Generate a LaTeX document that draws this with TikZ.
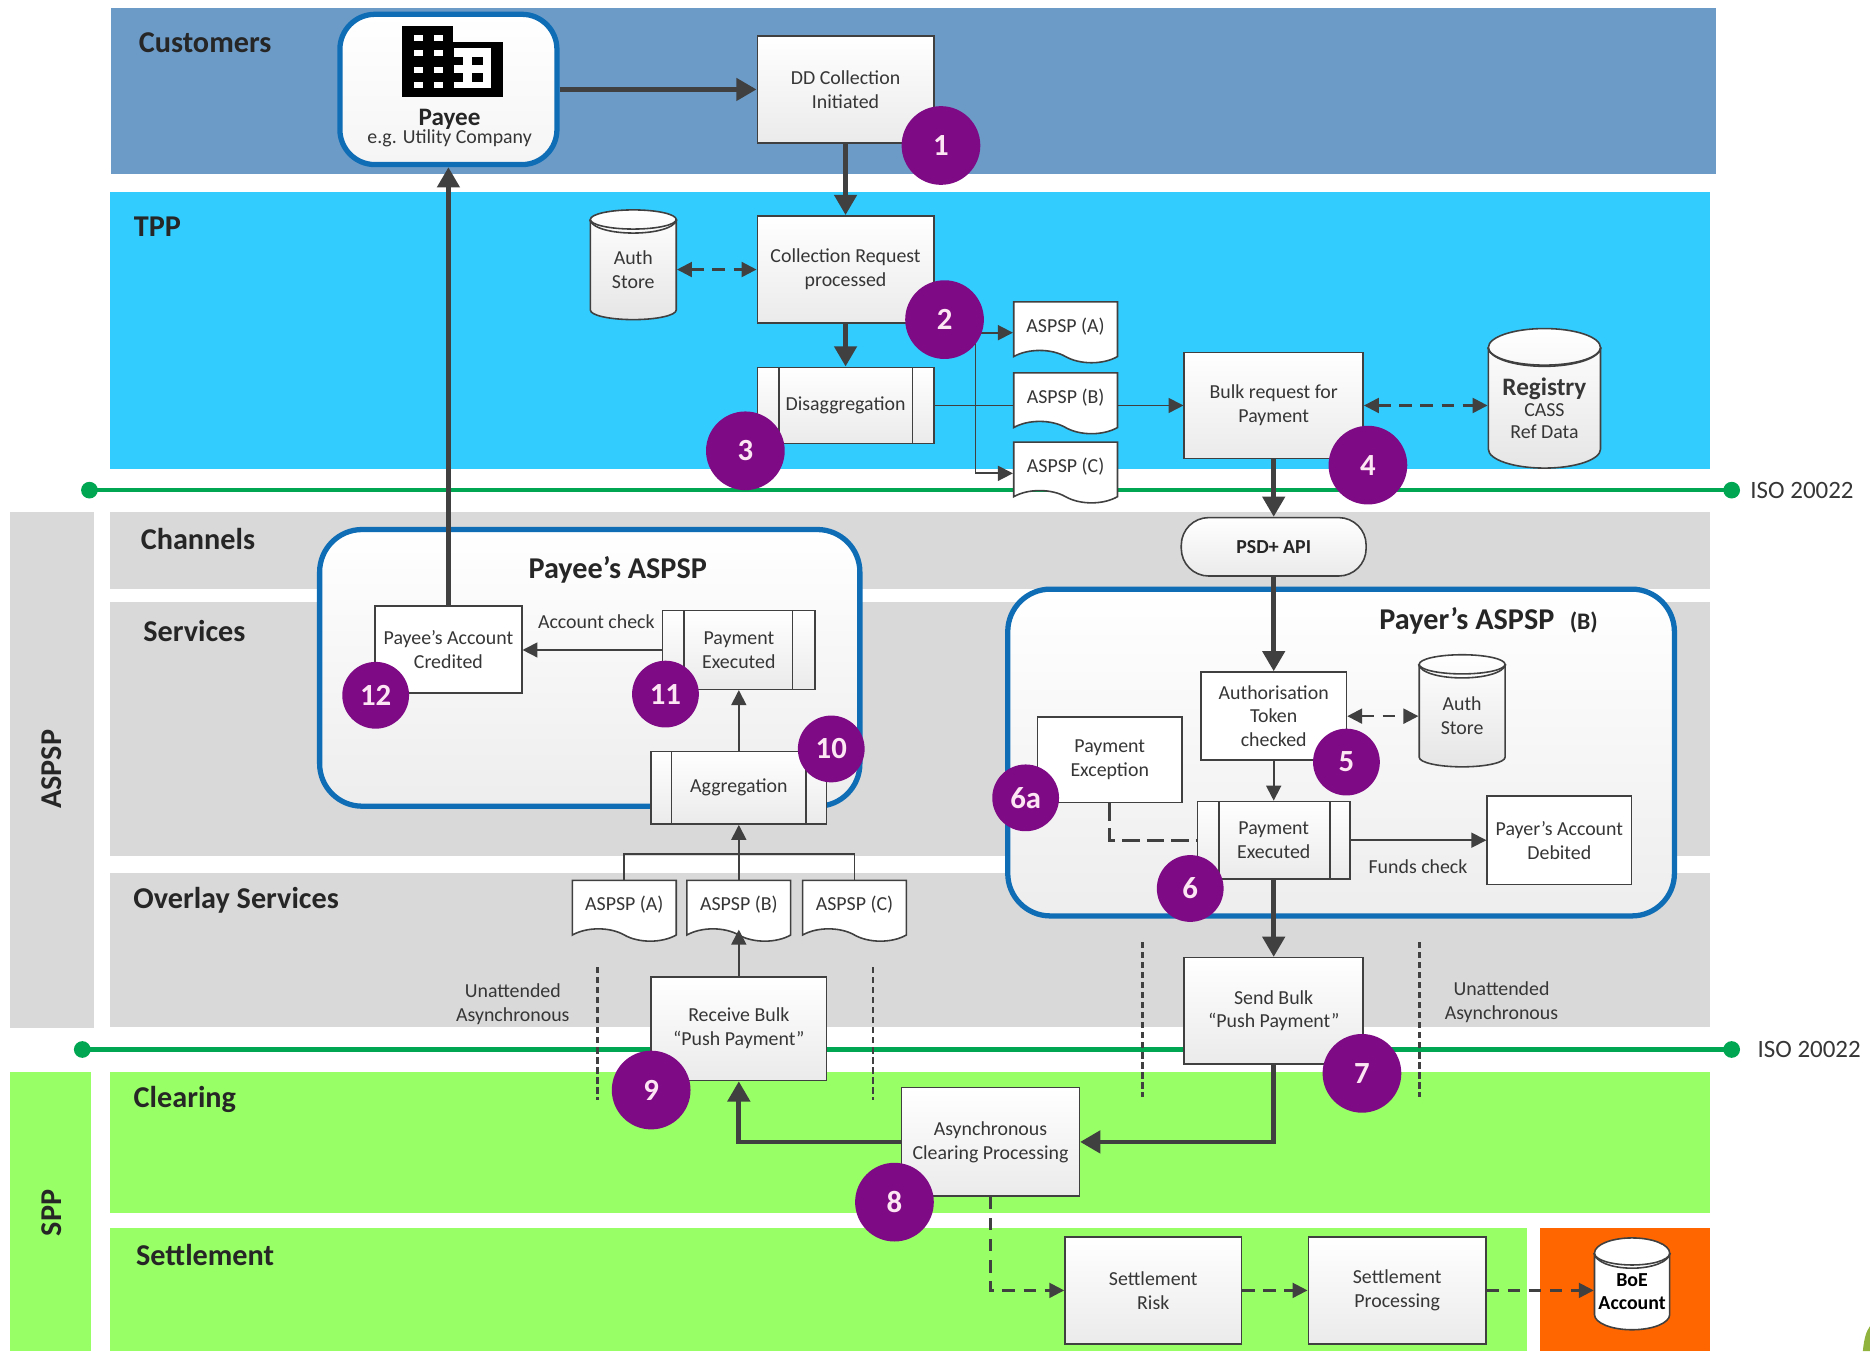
\documentclass[tikz,border=0pt]{standalone}
\usepackage{fontspec}
\setmainfont{Carlito}
\usetikzlibrary{arrows.meta,shapes.geometric,shapes.symbols}

\definecolor{custband}{HTML}{6C9BC8}
\definecolor{tppband}{HTML}{33CCFF}
\definecolor{greyband}{HTML}{D9D9D9}
\definecolor{greenband}{HTML}{99FF66}
\definecolor{boeband}{HTML}{FF6600}
\definecolor{isoline}{HTML}{00A651}
\definecolor{frameblue}{HTML}{0F6DB6}
\definecolor{badgepurple}{HTML}{7F0A85}
\definecolor{inkgrey}{HTML}{404040}
\definecolor{cornergreen}{HTML}{8FB33C}

\tikzset{
    wh/.style 2 args={minimum width=#1*0.02385cm, minimum height=#2*0.02385cm},
    boxtext/.style={font=\fontsize{11.3}{13.6}\selectfont, text=inkgrey!85!black, align=center, inner sep=0pt},
    headlabel/.style={font=\fontsize{17.2}{20}\selectfont\bfseries, text=black!85, inner sep=0pt},
    plainlabel/.style={boxtext},
    procbox/.style={rectangle, draw=inkgrey, line width=0.9pt, top color=white, bottom color=black!8, boxtext},
    whitebox/.style={rectangle, draw=inkgrey, line width=0.9pt, fill=white, boxtext},
    subproc/.style 2 args={procbox, path picture={
        \draw[inkgrey, line width=0.9pt] ([xshift=#1*0.02385cm]path picture bounding box.north west) -- ([xshift=#1*0.02385cm]path picture bounding box.south west);
        \draw[inkgrey, line width=0.9pt] ([xshift=-#2*0.02385cm]path picture bounding box.north east) -- ([xshift=-#2*0.02385cm]path picture bounding box.south east);}},
    store/.style={cylinder, shape border rotate=90, aspect=0.45, anchor=shape center, draw=inkgrey, line width=0.9pt, top color=white, bottom color=black!10, boxtext},
    slip/.style={tape, tape bend top=none, tape bend bottom=out and in, tape bend height=7pt, draw=inkgrey, line width=0.9pt, fill=white, boxtext, wh={87}{51}},
    frame/.style={rectangle, rounded corners=0.85cm, draw=frameblue, line width=3pt, top color=white, bottom color=black!7, inner sep=0pt},
    badge/.style={circle, fill=badgepurple, text=white!90!magenta, font=\fontsize{17.5}{20}\selectfont\bfseries, inner sep=0pt, minimum size=#1*0.02385cm},
    badge/.default=66,
    bigflow/.style={draw=inkgrey, line width=2.7pt, -{Triangle[length=11.5pt, width=12.5pt]}},
    flow/.style={draw=inkgrey, line width=1pt, -{Triangle[length=8.5pt, width=8.5pt]}},
    flowplain/.style={draw=inkgrey, line width=1pt},
    dashflow/.style={draw=inkgrey, line width=1.3pt, dash pattern=on 7pt off 5pt, {Triangle[length=8.5pt, width=8.5pt]}-{Triangle[length=8.5pt, width=8.5pt]}},
    dashone/.style={draw=inkgrey, line width=1.3pt, dash pattern=on 7pt off 5pt, -{Triangle[length=8.5pt, width=8.5pt]}},
    dashplain/.style={draw=inkgrey, line width=1.5pt, dash pattern=on 10pt off 4pt},
    asyncrule/.style={draw=inkgrey, line width=1.6pt, dash pattern=on 3.5pt off 2.2pt},
}

\begin{document}
\begin{tikzpicture}[x=0.02385cm, y=-0.02385cm]
    \useasboundingbox (0,0) rectangle (1568,1133);
    \clip (0,0) rectangle (1568,1133);

    % swim lanes
    \fill[custband] (93,7) rectangle (1439,146);
    \fill[tppband] (92,161) rectangle (1434,393);
    \fill[greyband] (92,429) rectangle (1434,494);
    \fill[greyband] (92,505) rectangle (1434,718);
    \fill[greyband] (92,732) rectangle (1434,861);
    \fill[greenband] (92,899) rectangle (1434,1017);
    \fill[greenband] (92,1030) rectangle (1280,1133);
    \fill[boeband] (1291,1030) rectangle (1434,1133);
    \fill[greyband] (8,429) rectangle (79,862);
    \fill[greenband] (8,899) rectangle (76,1133);
    \fill[cornergreen] (1562,1133) .. controls (1563,1122) and (1565,1116) .. (1568,1112) -- (1568,1133) -- cycle;

    \node[headlabel] (lblcust) at (172,36) {Customers};
    \node[headlabel] (lbltpp) at (132,190) {TPP};
    \node[headlabel] (lblchan) at (166,452) {Channels};
    \node[headlabel] (lblserv) at (163,529) {Services};
    \node[headlabel] (lblover) at (198,755) {Overlay Services};
    \node[headlabel] (lblclear) at (155,922) {Clearing};
    \node[headlabel] (lblsettle) at (172,1052) {Settlement};
    \node[headlabel, rotate=90] (lblaspsp) at (43,645) {ASPSP};
    \node[headlabel, rotate=90] (lblspp) at (43,1017) {SPP};

    % ISO 20022 lines
    \coordinate (isoaw) at (75,411);
    \coordinate (isoae) at (1452,411);
    \coordinate (isobw) at (69,880);
    \coordinate (isobe) at (1452,880);
    \draw[isoline, line width=2.6pt] (isoaw) -- (isoae);
    \draw[isoline, line width=2.6pt] (isobw) -- (isobe);
    \foreach \p in {isoaw,isoae,isobw,isobe}
        \fill[isoline] (\p) circle (7);
    \node[plainlabel, font=\fontsize{14.2}{16}\selectfont] (isoa) at (1511,411) {ISO 20022};
    \node[plainlabel, font=\fontsize{14.2}{16}\selectfont] (isob) at (1517,880) {ISO 20022};

    % blue frames
    \node[frame, wh={453}{232}] (payeeframe) at (494.5,560) {};
    \node[frame, wh={559}{274}] (payerframe) at (1124.5,631) {};
    \node[headlabel] (payeetitle) at (518,478) {Payee's ASPSP};
    \node[headlabel] (payertitle) at (1230,521) {Payer's ASPSP};
    \node[headlabel, font=\fontsize{13.5}{15}\selectfont\bfseries] (payerb) at (1328,522) {(B)};

    % payee with its building
    \node[frame, rounded corners=0.7cm, bottom color=black!4, wh={182}{126}] (payee) at (376,75) {};
    \fill[black] (337,22) rectangle (380,81);
    \fill[black] (380,35) rectangle (422,81);
    \fill[white] (381,40) rectangle (412,74);
    \foreach \y in {47.5,61.5} {
        \fill[black] (381,\y) rectangle (388,\y+7);
        \fill[black] (396,\y) rectangle (405,\y+7);
    }
    \foreach \x in {347.5,364}
        \foreach \y in {29,42,56,69}
            \fill[white] (\x,\y) rectangle (\x+7.5,\y+5);
    \node[font=\fontsize{14.3}{16}\selectfont\bfseries, text=black!85, inner sep=0pt] (payeename) at (377,100) {Payee};
    \node[boxtext] (payeenote) at (377,116) {e.g. Utility Company};

    % TPP and customer steps
    \node[procbox, wh={148}{90}] (ddinit) at (709,75) {DD Collection\\Initiated};
    \node[procbox, wh={148}{90}] (collreq) at (709,226) {Collection Request\\processed};
    \node[subproc={18}{18}, wh={148}{64}] (disagg) at (709,340) {Disaggregation};
    \node[store, minimum width=72*0.02385cm, minimum height=92*0.02385cm] (authtpp) at (531,222) {Auth\\Store};
    \node[slip] (tppa) at (893.5,273.5) {ASPSP (A)};
    \node[slip] (tppb) at (893.5,333) {ASPSP (B)};
    \node[slip] (tppc) at (893.5,391) {ASPSP (C)};
    \node[procbox, wh={150}{89}] (bulkreq) at (1068,340) {Bulk request for\\Payment};
    \node[store, minimum width=94*0.02385cm, minimum height=117*0.02385cm] (registry) at (1295,334) {{\bfseries\fontsize{14.3}{14}\selectfont Registry}\\[-2pt]CASS\\[-1pt]Ref Data};
    \node[procbox, rounded corners=0.55cm, wh={155}{49}, font=\fontsize{11.3}{13}\selectfont\bfseries, text=black!85] (psdapi) at (1068,458.5) {PSD+ API};

    % payer's ASPSP
    \node[whitebox, wh={122}{74}] (authtoken) at (1068,600.5) {Authorisation\\Token\\checked};
    \node[store, minimum width=72*0.02385cm, minimum height=94*0.02385cm] (authpayer) at (1226,596) {Auth\\Store};
    \node[whitebox, wh={121}{72}] (payexcept) at (930.5,637) {Payment\\Exception};
    \node[subproc={18}{17}, wh={128}{65}] (payexecb) at (1068,704.5) {Payment\\Executed};
    \node[whitebox, wh={121}{74}] (debited) at (1307.5,704.5) {Payer's Account\\Debited};
    \node[plainlabel] (fundscheck) at (1189,727) {Funds check};
    \node[procbox, wh={150}{89}] (sendbulk) at (1068,847.5) {Send Bulk\\``Push Payment''};
    \node[plainlabel] (unattright) at (1259,840) {Unattended\\Asynchronous};

    % payee's ASPSP
    \node[whitebox, wh={123}{73}] (credited) at (376,544.5) {Payee's Account\\Credited};
    \node[subproc={18}{19}, wh={128}{66}] (payexeca) at (619.5,545) {Payment\\Executed};
    \node[plainlabel] (acccheck) at (500,521) {Account check};
    \node[subproc={17}{17}, wh={147}{61}] (aggreg) at (619.5,660.5) {Aggregation};
    \node[slip] (ovla) at (523.5,758.5) {ASPSP (A)};
    \node[slip] (ovlb) at (619.5,758.5) {ASPSP (B)};
    \node[slip] (ovlc) at (716.5,758.5) {ASPSP (C)};
    \node[procbox, wh={147}{87}] (recvbulk) at (619.5,862.5) {Receive Bulk\\``Push Payment''};
    \node[plainlabel] (unattleft) at (430,842) {Unattended\\Asynchronous};

    % clearing and settlement
    \node[procbox, wh={149}{91}] (asyncclear) at (830.5,957.5) {Asynchronous\\Clearing Processing};
    \node[procbox, wh={148}{90}] (settlerisk) at (967,1082) {Settlement\\Risk};
    \node[procbox, wh={149}{90}] (settleproc) at (1171.5,1082) {Settlement\\Processing};
    \node[store, minimum width=63*0.02385cm, minimum height=77*0.02385cm, top color=white, bottom color=white, font=\fontsize{11.3}{13}\selectfont\bfseries, text=black] (boeacc) at (1368.5,1076.5) {BoE\\Account};

    \foreach \n in {authtpp,registry,authpayer,boeacc}
        \draw[inkgrey, line width=0.9pt] (\n.before top) to[out=-75, in=-105, looseness=0.55] (\n.after top);

    % vertical rules either side of the bulk steps
    \coordinate (ruleat) at (501,811);
    \coordinate (rulebt) at (732,811);
    \coordinate (rulect) at (958,790);
    \coordinate (ruledt) at (1190,790);
    \draw[asyncrule] (ruleat) -- (501,922);
    \draw[asyncrule] (rulebt) -- (732,922);
    \draw[asyncrule] (rulect) -- (958,920);
    \draw[asyncrule] (ruledt) -- (1190,920);

    % connectors
    \coordinate (tppsplit) at (818,340);
    \coordinate (ovlmerge) at (619.5,716);
    \draw[bigflow] (payee.east) -- (ddinit.west);
    \draw[bigflow] (ddinit.south) -- (collreq.north);
    \draw[bigflow] (collreq.south) -- (disagg.north);
    \draw[dashflow] (authtpp.east |- collreq.west) -- (collreq.west);
    \draw[flowplain] (disagg.east) -- (tppb.west |- disagg.east);
    \draw[flow] (tppsplit) |- ([yshift=-3.7pt]tppa.west);
    \draw[flow] (tppsplit) |- ([yshift=-4pt]tppc.west);
    \draw[flow] (tppb.east |- bulkreq.west) -- (bulkreq.west);
    \draw[dashflow] (bulkreq.east) -- (registry.west |- bulkreq.east);
    \draw[bigflow] (bulkreq.south) -- (psdapi.north);
    \draw[bigflow] (psdapi.south) -- (authtoken.north);
    \draw[dashflow] (authtoken.east) -- (authpayer.west |- authtoken.east);
    \draw[flow] (authtoken.south) -- (payexecb.north);
    \draw[flow] (payexecb.east) -- (debited.west);
    \draw[dashplain] (payexcept.south) |- (payexecb.west);
    \draw[bigflow] (payexecb.south) -- (sendbulk.north);
    \draw[bigflow] (sendbulk.south) |- (asyncclear.east);
    \draw[bigflow] (asyncclear.west) -| (recvbulk.south);
    \draw[flow] (recvbulk.north) -- (ovlb.south);
    \draw[flowplain] (ovla.north) |- (ovlmerge) -| (ovlc.north);
    \draw[flow] (ovlb.north) -- (aggreg.south);
    \draw[flow] (aggreg.north) -- (payexeca.south);
    \draw[flow] (payexeca.west) -- (credited.east |- payexeca.west);
    \draw[bigflow] (credited.north) -- (payee.south);
    \draw[dashone] (asyncclear.south) |- (settlerisk.west);
    \draw[dashone] (settlerisk.east) -- (settleproc.west);
    \draw[dashone] (settleproc.east) -- (boeacc.west |- settleproc.east);

    % step numbers
    \node[badge] (num1) at (789,122) {1};
    \node[badge] (num2) at (792,268) {2};
    \node[badge] (num3) at (625,378) {3};
    \node[badge] (num4) at (1147,390) {4};
    \node[badge=56] (num5) at (1129,639) {5};
    \node[badge=56] (num6) at (998,745) {6};
    \node[badge=56] (num6a) at (860,669) {6a};
    \node[badge] (num7) at (1142,900) {7};
    \node[badge] (num8) at (750,1008) {8};
    \node[badge] (num9) at (546,914) {9};
    \node[badge=56] (num10) at (697,628) {10};
    \node[badge=56] (num11) at (558,582) {11};
    \node[badge=56] (num12) at (315,583) {12};
\end{tikzpicture}
\end{document}
